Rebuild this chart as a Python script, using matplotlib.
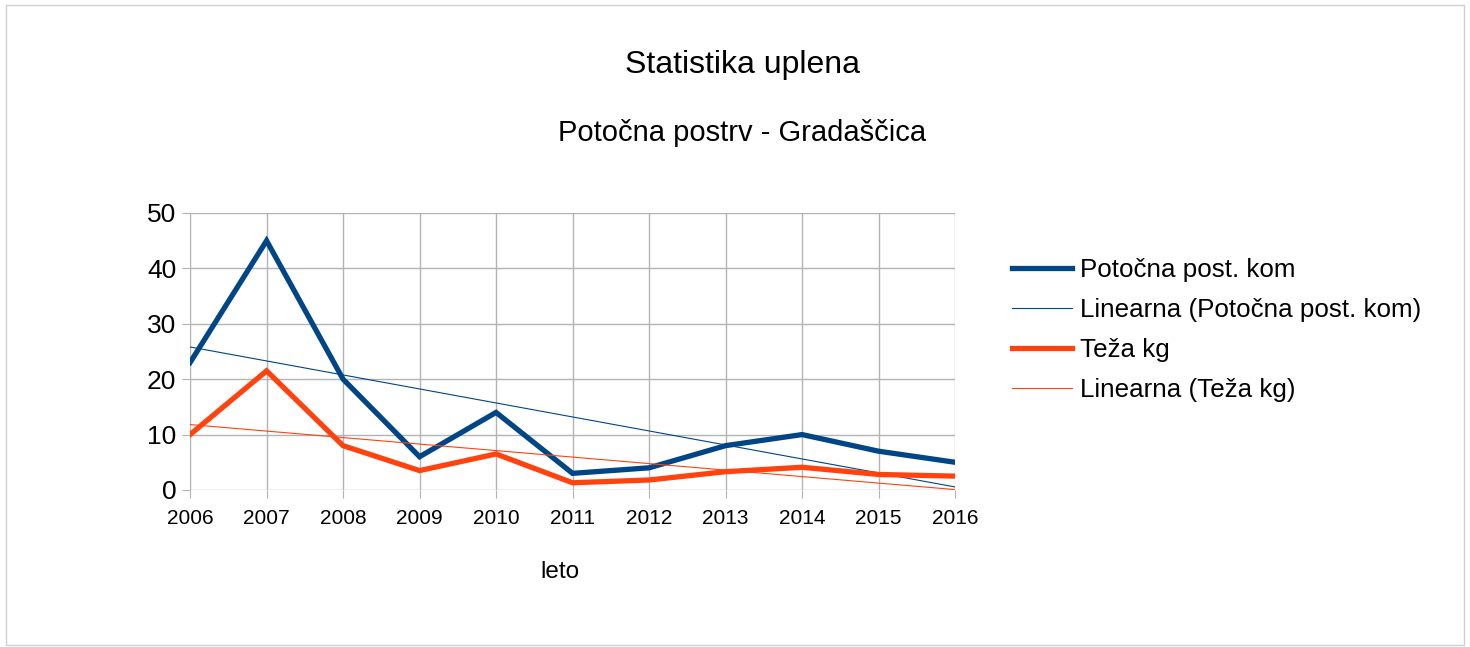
import numpy as np
import matplotlib.pyplot as plt
from matplotlib.patches import Rectangle

plt.rcParams['font.family'] = ['Liberation Sans', 'DejaVu Sans']

years = [2006, 2007, 2008, 2009, 2010, 2011, 2012, 2013, 2014, 2015, 2016]
komadi = [23, 45, 20, 6, 14, 3, 4, 8, 10, 7, 5]
teza = [10, 21.5, 8, 3.5, 6.5, 1.3, 1.8, 3.3, 4.1, 2.8, 2.5]

blue = '#004586'
orange = '#ff420e'
grid = '#b3b3b3'

fig = plt.figure(figsize=(14.7, 6.47), dpi=100)
fig.patches.append(Rectangle((0.004, 0.003), 0.992, 0.99, transform=fig.transFigure,
                             fill=False, edgecolor='#d0d0d0', linewidth=1))

ax = fig.add_axes([0.1293, 0.2427, 0.5204, 0.4281])

x = np.array(years, dtype=float)
fit_k = np.polyfit(x, komadi, 1)
fit_t = np.polyfit(x, teza, 1)

ax.plot(years, komadi, color=blue, lw=3.8, label='Potočna post. kom', zorder=3,
        solid_joinstyle='miter')
ax.plot(years, np.polyval(fit_k, x), color=blue, lw=0.8,
        label='Linearna (Potočna post. kom)', zorder=3)
ax.plot(years, teza, color=orange, lw=3.8, label='Teža kg', zorder=3,
        solid_joinstyle='miter')
ax.plot(years, np.polyval(fit_t, x), color=orange, lw=0.8,
        label='Linearna (Teža kg)', zorder=3)

ax.set_xlim(2006, 2016)
ax.set_ylim(0, 50)
ax.set_xticks(years)
ax.set_yticks([0, 10, 20, 30, 40, 50])
ax.grid(True, color=grid, lw=1)
for s in ax.spines.values():
    s.set_visible(False)
ax.tick_params(axis='x', labelsize=15, length=6, color=grid, pad=8)
ax.tick_params(axis='y', labelsize=19, length=6, color=grid, pad=4)
ax.set_xlabel('leto', fontsize=17.5)
ax.xaxis.set_label_coords(0.484, -0.255)

fig.text(0.505, 0.899, 'Statistika uplena', ha='center', va='center', fontsize=23)
fig.text(0.505, 0.795, 'Potočna postrv - Gradaščica', ha='center', va='center', fontsize=21)

fig.legend(loc='upper left', bbox_to_anchor=(0.6817, 0.617), frameon=False,
           fontsize=18.7, handlelength=2.3, handletextpad=0.3, labelspacing=0.62,
           borderaxespad=0)

fig.savefig('out.png', dpi=100)
